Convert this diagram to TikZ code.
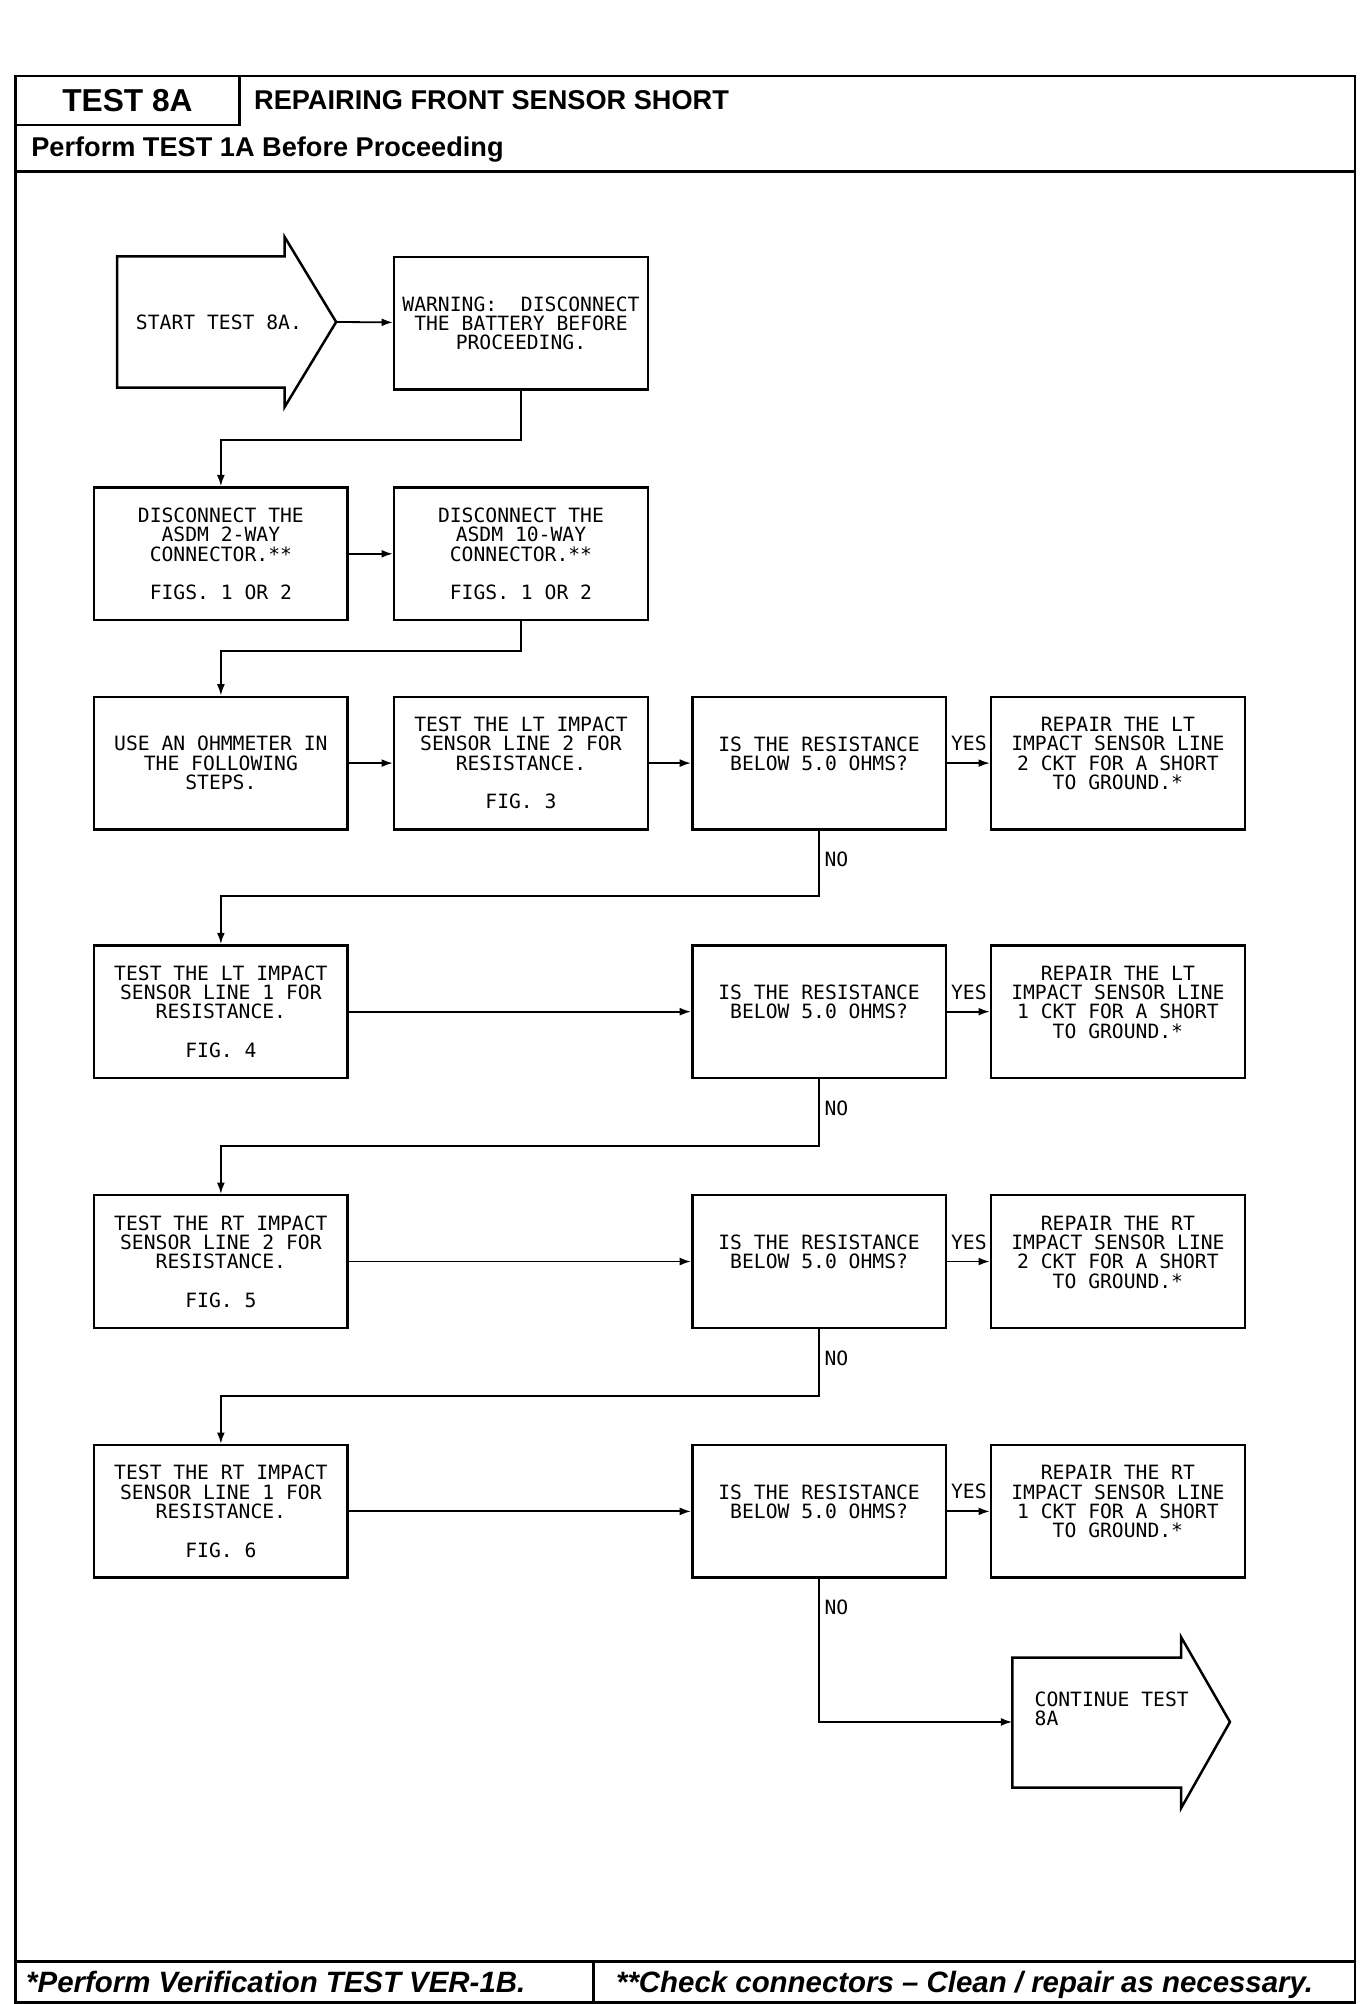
\documentclass[tikz,border=0pt]{standalone}
\usepackage{fontspec}
\usepackage{tikz}
\usetikzlibrary{arrows.meta,positioning,calc}
\newfontfamily\plotfont{DejaVu Sans Mono}
\newfontfamily\headfont{Liberation Sans}
\newcommand{\boxfont}{\plotfont\fontsize{8.7}{8.54}\selectfont}
\tikzset{
	>={Latex[length=5pt,width=3.5pt]},
	frame/.style={draw, line width=1.2pt},
	stepbox/.style = {
			draw,
			line width=1.1pt,
			rectangle,
			minimum width = 3.94cm,
			minimum height = 2.06cm,
			inner sep = 0pt,
			align=center,
			font=\boxfont
		},
	link/.style={line width=0.8pt},
	yeslabel/.style={pos=1, anchor=south east, inner xsep=1pt, inner ysep=5pt, font=\boxfont},
	nolabel/.style={pos=0.43, anchor=west, inner sep=2pt, font=\boxfont}
}

\begin{document}
\begin{tikzpicture}[x=0.02cm,y=-0.02cm]
			\useasboundingbox (0,0) rectangle (1056,1556);

			% page frame and title rows
			\draw[frame] (12,59) rectangle (1052,1555);
			\node[frame, minimum width=3.48cm, minimum height=0.76cm, inner sep=0pt, font=\headfont\fontsize{14}{16}\selectfont\bfseries] at (99,78) (testno) {TEST 8A};
			\node[anchor=west, inner sep=0pt, font=\headfont\fontsize{12}{14}\selectfont\bfseries] at (197,78) (title) {REPAIRING FRONT SENSOR SHORT};
			\node[anchor=west, inner sep=0pt, font=\headfont\fontsize{12}{14}\selectfont\bfseries] at (24,116) (pre) {Perform TEST 1A Before Proceeding};
			\draw[frame] (12,133) -- (1052,133);

			% footer
			\draw[frame] (12,1523) -- (1052,1523);
			\draw[frame] (461,1523) -- (461,1555);
			\node[anchor=base west, inner sep=0pt, font=\headfont\fontsize{13}{15}\selectfont\bfseries\itshape] at (20,1547) (note1) {*Perform Verification TEST VER-1B.};
			\node[anchor=base west, inner sep=0pt, font=\headfont\fontsize{13}{15}\selectfont\bfseries\itshape] at (478,1547) (note2) {**Check connectors \textendash{} Clean / repair as necessary.};

			% start arrow
			\draw[line width=1.1pt] (91,199) -- (221,199) -- (221,184) -- (261,250) -- (221,316) -- (221,301) -- (91,301) -- cycle;
			\node[font=\boxfont] at (170,250) (start) {START TEST 8A.};
			\coordinate (starttip) at (261,250);

			\node[stepbox] at (404.5,251) (warn) {WARNING:~~DISCONNECT\\THE BATTERY BEFORE\\PROCEEDING.};

			\node[stepbox] at (171.5,430) (dis2) {DISCONNECT THE\\ASDM 2-WAY\\CONNECTOR.**\\[8.5pt]FIGS. 1 OR 2};
			\node[stepbox] at (404.5,430) (dis10) {DISCONNECT THE\\ASDM 10-WAY\\CONNECTOR.**\\[8.5pt]FIGS. 1 OR 2};

			\node[stepbox] at (171.5,592.5) (ohm) {USE AN OHMMETER IN\\THE FOLLOWING\\STEPS.};
			\node[stepbox] at (404.5,592.5) (ltA) {TEST THE LT IMPACT\\SENSOR LINE 2 FOR\\RESISTANCE.\\[8.5pt]FIG. 3};
			\node[stepbox] at (636,592.5) (qA) {IS THE RESISTANCE\\BELOW 5.0 OHMS?\\~};
			\node[stepbox] at (868,592.5) (repA) {REPAIR THE LT\\IMPACT SENSOR LINE\\2 CKT FOR A SHORT\\TO GROUND.*\\~};

			\node[stepbox] at (171.5,785.5) (ltB) {TEST THE LT IMPACT\\SENSOR LINE 1 FOR\\RESISTANCE.\\[8.5pt]FIG. 4};
			\node[stepbox] at (636,785.5) (qB) {IS THE RESISTANCE\\BELOW 5.0 OHMS?\\~};
			\node[stepbox] at (868,785.5) (repB) {REPAIR THE LT\\IMPACT SENSOR LINE\\1 CKT FOR A SHORT\\TO GROUND.*\\~};

			\node[stepbox] at (171.5,979.5) (rtB) {TEST THE RT IMPACT\\SENSOR LINE 2 FOR\\RESISTANCE.\\[8.5pt]FIG. 5};
			\node[stepbox] at (636,979.5) (qC) {IS THE RESISTANCE\\BELOW 5.0 OHMS?\\~};
			\node[stepbox] at (868,979.5) (repC) {REPAIR THE RT\\IMPACT SENSOR LINE\\2 CKT FOR A SHORT\\TO GROUND.*\\~};

			\node[stepbox] at (171.5,1173.5) (rtA) {TEST THE RT IMPACT\\SENSOR LINE 1 FOR\\RESISTANCE.\\[8.5pt]FIG. 6};
			\node[stepbox] at (636,1173.5) (qD) {IS THE RESISTANCE\\BELOW 5.0 OHMS?\\~};
			\node[stepbox] at (868,1173.5) (repD) {REPAIR THE RT\\IMPACT SENSOR LINE\\1 CKT FOR A SHORT\\TO GROUND.*\\~};

			% continue arrow
			\draw[line width=1.1pt] (786,1287) -- (917,1287) -- (917,1271) -- (955,1337) -- (917,1404) -- (917,1388) -- (786,1388) -- cycle;
			\node[anchor=north west, align=left, inner sep=0pt, font=\boxfont] at (803,1313) (cont) {CONTINUE TEST\\8A};
			\coordinate (contin) at (786,1337);

			% connectors
			\draw[link, ->] (starttip) -- (warn);
			\draw[link, ->] (warn.south) -- ++(0,38) -| (dis2.north);
			\draw[link, ->] (dis2) -- (dis10);
			\draw[link, ->] (dis10.south) -- ++(0,23) -| (ohm.north);
			\draw[link, ->] (ohm) -- (ltA);
			\draw[link, ->] (ltA) -- (qA);
			\draw[link, ->] (qA) -- node[yeslabel] {YES} (repA);
			\draw[link, ->] (qA.south) -- node[nolabel] {NO} ++(0,51) -| (ltB.north);
			\draw[link, ->] (ltB) -- (qB);
			\draw[link, ->] (qB) -- node[yeslabel] {YES} (repB);
			\draw[link, ->] (qB.south) -- node[nolabel] {NO} ++(0,52) -| (rtB.north);
			\draw[link, ->] (rtB) -- (qC);
			\draw[link, ->] (qC) -- node[yeslabel] {YES} (repC);
			\draw[link, ->] (qC.south) -- node[nolabel] {NO} ++(0,52) -| (rtA.north);
			\draw[link, ->] (rtA) -- (qD);
			\draw[link, ->] (qD) -- node[yeslabel] {YES} (repD);
			\draw[link, ->] (qD.south) |- node[nolabel, pos=0.1] {NO} (contin);
		\end{tikzpicture}
\end{document}
